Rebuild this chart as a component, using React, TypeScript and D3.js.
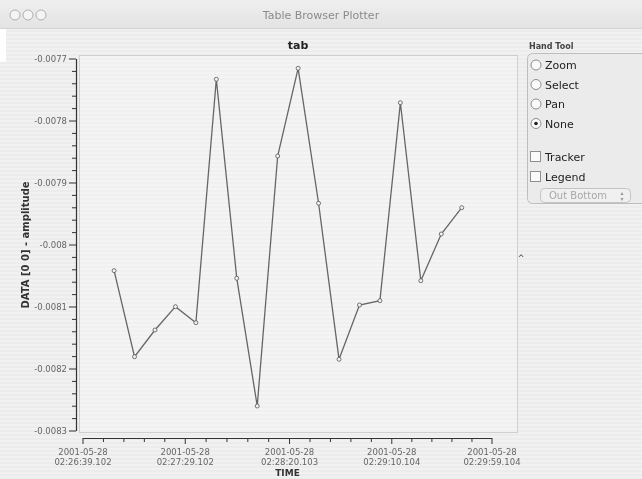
import React from "react";
import * as d3 from "d3";

const W = 642;
const H = 479;

// ---- data ----
const sampleTimes = [
  "02:26:54.3", "02:27:04.3", "02:27:14.3", "02:27:24.3", "02:27:34.3", "02:27:44.3",
  "02:27:54.3", "02:28:04.3", "02:28:14.3", "02:28:24.3", "02:28:34.3", "02:28:44.3",
  "02:28:54.3", "02:29:04.3", "02:29:14.3", "02:29:24.3", "02:29:34.3", "02:29:44.3",
];
const amplitudes = [
  -0.0080414, -0.0081802, -0.0081371, -0.0080995, -0.0081253, -0.0077327,
  -0.0080537, -0.0082597, -0.0078565, -0.007715, -0.0079327, -0.0081844,
  -0.0080968, -0.0080898, -0.0077705, -0.0080576, -0.0079823, -0.0079398,
];
const xTickDates = ["2001-05-28", "2001-05-28", "2001-05-28", "2001-05-28", "2001-05-28"];
const xTickTimes = ["02:26:39.102", "02:27:29.102", "02:28:20.103", "02:29:10.104", "02:29:59.104"];
const yTickValues = [-0.0077, -0.0078, -0.0079, -0.008, -0.0081, -0.0082, -0.0083];
const yTickLabels = ["-0.0077", "-0.0078", "-0.0079", "-0.008", "-0.0081", "-0.0082", "-0.0083"];
const radioOptions = ["Zoom", "Select", "Pan", "None"];
const selectedRadio = "None";
const checkOptions = ["Tracker", "Legend"];

const toSec = (s: string) => {
  const [h, m, sec] = s.split(":");
  return +h * 3600 + +m * 60 + +sec;
};

const FONT = "'DejaVu Sans', 'Liberation Sans', sans-serif";

export default function App() {
  const plot = { left: 79, right: 517, top: 55, bottom: 432 };
  const axX = { x0: 83, x1: 492, y: 438 };
  const axY = { x: 76, y0: 431, y1: 59 };

  const tickSecs = xTickTimes.map(toSec);
  const x = d3.scaleLinear().domain([tickSecs[0], tickSecs[tickSecs.length - 1]]).range([axX.x0, axX.x1]);
  const y = d3.scaleLinear().domain([-0.0083, -0.0077]).range([axY.y0, axY.y1]);

  const pts = sampleTimes.map((t, i) => [x(toSec(t)), y(amplitudes[i])] as [number, number]);
  const line = d3.line<[number, number]>().x((d) => d[0]).y((d) => d[1]);

  // minor ticks
  const xMinor: number[] = [];
  for (let i = 0; i < tickSecs.length - 1; i++) {
    const a = x(tickSecs[i]);
    const b = x(tickSecs[i + 1]);
    for (let k = 1; k < 5; k++) xMinor.push(a + ((b - a) * k) / 5);
  }
  const yMinor: number[] = [];
  for (let i = 0; i < yTickValues.length - 1; i++) {
    const a = y(yTickValues[i]);
    const b = y(yTickValues[i + 1]);
    for (let k = 1; k < 5; k++) yMinor.push(a + ((b - a) * k) / 5);
  }

  return (
    <div style={{ position: "fixed", left: 0, top: 0, width: W, height: H }}>
      <svg width={W} height={H} style={{ display: "block" }} fontFamily={FONT}>
        <defs>
          <pattern id="stripes" width="4" height="4" patternUnits="userSpaceOnUse">
            <rect width="4" height="4" fill="#ececec" />
            <rect width="4" height="2" fill="#f1f1f1" />
          </pattern>
          <pattern id="stripesPlot" width="4" height="4" patternUnits="userSpaceOnUse">
            <rect width="4" height="4" fill="#f0f0f0" />
            <rect width="4" height="2" fill="#f4f4f4" />
          </pattern>
          <linearGradient id="titleGrad" x1="0" y1="0" x2="0" y2="1">
            <stop offset="0" stopColor="#efefef" />
            <stop offset="1" stopColor="#e3e3e3" />
          </linearGradient>
        </defs>
        {/* window background */}
        <rect x={0} y={0} width={W} height={H} fill="url(#stripes)" />
        {/* title bar */}
        <rect x={0} y={0} width={W} height={28} fill="url(#titleGrad)" />
        <line x1={0} x2={W} y1={28.5} y2={28.5} stroke="#d4d4d4" />
        {[15, 28, 41].map((cx) => (
          <circle key={cx} cx={cx} cy={15} r={5} fill="#f4f4f4" stroke="#b0b0b0" strokeWidth={1} />
        ))}
        <text x={W / 2} y={19} textAnchor="middle" fontSize={11} fill="#8a8a8a">
          Table Browser Plotter
        </text>
        {/* white sliver at left */}
        <rect x={0} y={29} width={6} height={33} fill="#ffffff" />

        {/* plot area */}
        <rect x={plot.left + 0.5} y={plot.top + 0.5} width={plot.right - plot.left} height={plot.bottom - plot.top}
          fill="url(#stripesPlot)" stroke="#cfcfcf" />
        <text x={(plot.left + plot.right) / 2} y={49} textAnchor="middle" fontSize={11} fontWeight="bold" fill="#222">
          tab
        </text>

        {/* y axis */}
        <line x1={axY.x + 0.5} x2={axY.x + 0.5} y1={axY.y1} y2={axY.y0} stroke="#333" strokeWidth={1.2} />
        {yTickValues.map((v, i) => (
          <g key={v}>
            <line x1={axY.x - 7} x2={axY.x} y1={y(v)} y2={y(v)} stroke="#333" />
            <text x={axY.x - 9} y={y(v) + 3} textAnchor="end" fontSize={8.5} fill="#666">
              {yTickLabels[i]}
            </text>
          </g>
        ))}
        {yMinor.map((p, i) => (
          <line key={i} x1={axY.x - 4} x2={axY.x} y1={p} y2={p} stroke="#333" />
        ))}
        <text transform={`translate(29,${(axY.y0 + axY.y1) / 2}) rotate(-90)`} textAnchor="middle" fontSize={10}
          fontWeight="bold" fill="#333">
          DATA [0 0] - amplitude
        </text>

        {/* x axis */}
        <line x1={axX.x0} x2={axX.x1} y1={axX.y + 0.5} y2={axX.y + 0.5} stroke="#333" strokeWidth={1.2} />
        {tickSecs.map((t, i) => (
          <g key={t}>
            <line x1={x(t)} x2={x(t)} y1={axX.y} y2={axX.y + 6} stroke="#333" />
            <text x={x(t)} y={455} textAnchor="middle" fontSize={8.5} fill="#666">
              {xTickDates[i]}
            </text>
            <text x={x(t)} y={465} textAnchor="middle" fontSize={8.5} fill="#666">
              {xTickTimes[i]}
            </text>
          </g>
        ))}
        {xMinor.map((p, i) => (
          <line key={i} x1={p} x2={p} y1={axX.y} y2={axX.y + 4} stroke="#333" />
        ))}
        <text x={(axX.x0 + axX.x1) / 2} y={476} textAnchor="middle" fontSize={9} fontWeight="bold" fill="#333">
          TIME
        </text>

        {/* series */}
        <path d={line(pts) || ""} fill="none" stroke="#666" strokeWidth={1.3} />
        {pts.map((p, i) => (
          <circle key={i} cx={p[0]} cy={p[1]} r={2} fill="#f2f2f2" stroke="#555" strokeWidth={0.8} />
        ))}

        {/* small handle mark */}
        <text x={521} y={261} textAnchor="middle" fontSize={8} fill="#444">^</text>

        {/* control panel */}
        <text x={529} y={49} fontSize={8} fontWeight="bold" fill="#444">Hand Tool</text>
        <rect x={527.5} y={53.5} width={120} height={150} rx={5} fill="#ebebeb" stroke="#bdbdbd" />
        {radioOptions.map((o, i) => {
          const cy = 65 + i * 19.5;
          return (
            <g key={o}>
              <circle cx={536} cy={cy} r={5} fill="#fafafa" stroke="#8e8e8e" />
              {o === selectedRadio && <circle cx={536} cy={cy} r={1.8} fill="#222" />}
              <text x={545} y={cy + 4} fontSize={11} fill="#222">{o}</text>
            </g>
          );
        })}
        {checkOptions.map((o, i) => {
          const cy = 157 + i * 20;
          return (
            <g key={o}>
              <rect x={530.5} y={cy - 5.5} width={10} height={10} fill="#fafafa" stroke="#8e8e8e" />
              <text x={545} y={cy + 4} fontSize={11} fill="#222">{o}</text>
            </g>
          );
        })}
        <rect x={540.5} y={188.5} width={90} height={14} rx={4} fill="#f0f0f0" stroke="#c4c4c4" />
        <text x={549} y={199} fontSize={10} fill="#a8a8a8">Out Bottom</text>
        <text x={622} y={195} textAnchor="middle" fontSize={6} fill="#999">▴</text>
        <text x={622} y={201} textAnchor="middle" fontSize={6} fill="#999">▾</text>
      </svg>
    </div>
  );
}
